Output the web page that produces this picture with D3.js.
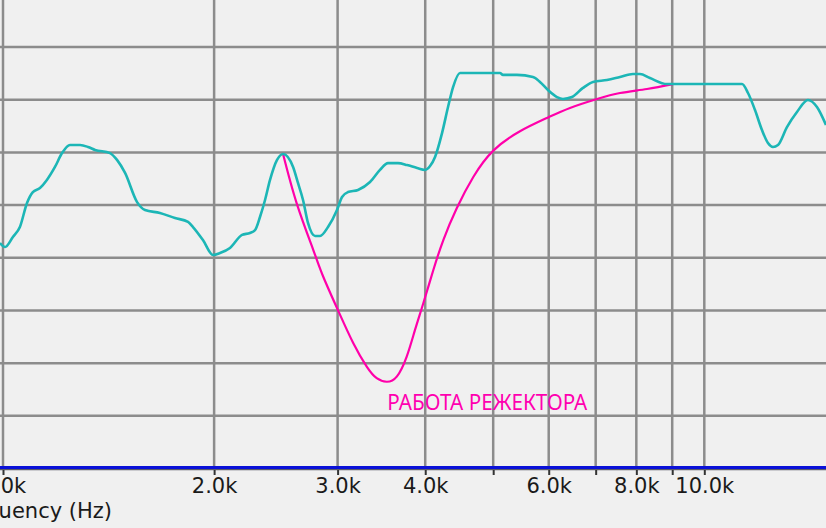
<!DOCTYPE html>
<html>
<head>
<meta charset="utf-8">
<script src="https://cdn.jsdelivr.net/npm/d3@7"></script>
<style>
html,body{margin:0;padding:0;background:#f0f0f0;}
svg{display:block;}
</style>
</head>
<body>
<svg id="c" width="826" height="528"></svg>
<script>
// ---- data ----
const gridFreqs = [1000,2000,3000,4000,5000,6000,7000,8000,9000,10000];
const tickFreqs = [1000,2000,3000,4000,6000,8000,10000];
const tickLabels = ["1.0k","2.0k","3.0k","4.0k","6.0k","8.0k","10.0k"];
const gridDb = [3,0,-3,-6,-9,-12,-15,-18,-21];
const axisTitle = "Frequency (Hz)";
const noteText = "РАБОТА РЕЖЕКТОРА";

// measured response (teal): frequency Hz, level dB
const respFreq = [990,1007,1033,1057,1082,1103,1129,1155,1186,1214,1246,1288,1322,1353,1421,1454,1493,1553,1594,1674,1759,1836,1866,1928,1993,2039,2107,2192,2250,2288,2325,2364,2403,2459,2508,2592,2634,2678,2722,2786,2832,2907,2994,3044,3104,3208,3337,3448,3540,3658,3768,3894,3998,4064,4131,4227,4311,4383,4484,5113,5163,5406,5698,5830,5985,6165,6288,6476,6714,6939,7265,7582,7912,8096,8366,8847,11318,11543,11811,12085,12325,12529,12736,13118,13556,14054,14476,14910];
const respDb = [-11.16,-11.39,-10.82,-10.25,-8.88,-8.26,-8.03,-7.57,-6.83,-6.04,-5.58,-5.58,-5.69,-5.86,-6.04,-6.43,-7.17,-8.83,-9.28,-9.45,-9.74,-9.96,-10.25,-10.99,-11.84,-11.73,-11.44,-10.70,-10.59,-10.42,-9.68,-8.71,-7.57,-6.43,-6.09,-6.83,-7.74,-8.71,-10.02,-10.76,-10.76,-10.25,-9.28,-8.54,-8.26,-8.14,-7.69,-7.00,-6.61,-6.61,-6.72,-6.89,-7.00,-6.78,-6.26,-4.90,-3.42,-2.28,-1.48,-1.48,-1.59,-1.59,-1.71,-1.99,-2.45,-2.85,-2.96,-2.85,-2.33,-1.99,-1.88,-1.71,-1.54,-1.54,-1.77,-2.11,-2.11,-2.62,-3.59,-4.73,-5.47,-5.69,-5.58,-4.56,-3.70,-3.02,-3.42,-4.44];

// notch filter curve (magenta)
const notchFreq = [2508,2623,2770,2862,3007,3159,3301,3411,3525,3643,3764,3868,3975,4108,4245,4436,4684,5002,5460,5966,6434,7031,7582,8284,9023];
const notchDb = [-6.09,-8.90,-11.56,-13.08,-15.03,-16.87,-18.20,-18.86,-19.06,-18.77,-17.63,-16.11,-14.59,-12.70,-10.99,-9.18,-7.40,-5.90,-4.80,-4.04,-3.47,-2.96,-2.62,-2.39,-2.11];

// ---- drawing ----
const W = 826, H = 528;
const svg = d3.select("#c");
const x = d3.scaleLog().domain([1000,10000]).range([3,704.3]);
const y = d3.scaleLinear().domain([-24,0]).range([468.5,47]);

svg.append("rect").attr("width",W).attr("height",H).attr("fill","#f0f0f0");

const grid = svg.append("g").attr("stroke","#8c8c8c").attr("stroke-width",2.5);
grid.selectAll("line.v").data(gridFreqs).join("line")
  .attr("x1",d=>x(d)).attr("x2",d=>x(d)).attr("y1",0).attr("y2",467);
grid.selectAll("line.h").data(gridDb).join("line")
  .attr("x1",0).attr("x2",W).attr("y1",d=>y(d)).attr("y2",d=>y(d));

// bottom axis
svg.append("line").attr("x1",0).attr("x2",W).attr("y1",y(-24)+1.2).attr("y2",y(-24)+1.2)
  .attr("stroke","#5a5a6a").attr("stroke-width",1.2);
svg.append("line").attr("x1",0).attr("x2",W).attr("y1",y(-24)-1).attr("y2",y(-24)-1)
  .attr("stroke","#0a10d8").attr("stroke-width",3);

const axis = d3.axisBottom(x).tickValues(gridFreqs).tickSize(5)
  .tickFormat(d => { const i = tickFreqs.indexOf(d); return i>=0 ? tickLabels[i] : ""; });
const ag = svg.append("g").attr("transform",`translate(0,${y(-24)+1.5})`).call(axis);
ag.select(".domain").remove();
ag.selectAll(".tick line").attr("stroke","#333").attr("stroke-width",2);
ag.selectAll(".tick text").attr("fill","#1a1a1a").attr("font-family","DejaVu Sans")
  .attr("font-size",21).attr("y",8).attr("dy","0.72em");

svg.append("text").attr("x",112).attr("y",518).attr("text-anchor","end")
  .attr("font-family","DejaVu Sans").attr("font-size",21).attr("fill","#1a1a1a").text(axisTitle);

// curves
const resp = respFreq.map((f,i)=>[f,respDb[i]]);
const notch = notchFreq.map((f,i)=>[f,notchDb[i]]);

svg.append("path").datum(notch)
  .attr("d", d3.line().x(d=>x(d[0])).y(d=>y(d[1])).curve(d3.curveNatural))
  .attr("fill","none").attr("stroke","#ff00aa").attr("stroke-width",2.2);

svg.append("path").datum(resp)
  .attr("d", d3.line().x(d=>x(d[0])).y(d=>y(d[1])).curve(d3.curveMonotoneX))
  .attr("fill","none").attr("stroke","#1cb6b6").attr("stroke-width",2.6).attr("stroke-linejoin","round");

svg.append("text").attr("x",x(3532)).attr("y",410)
  .attr("font-family","Noto Sans").attr("font-size",22).attr("fill","#ff00b0")
  .attr("textLength",200).attr("lengthAdjust","spacingAndGlyphs").text(noteText);
</script>
</body>
</html>
